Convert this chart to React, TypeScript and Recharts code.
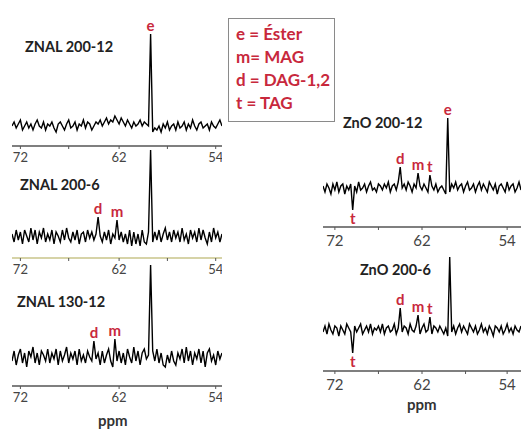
import React from 'react';
import { LineChart, Line, XAxis, YAxis, ReferenceDot } from 'recharts';

// tick positions along each axis (0..100 of the axis length) and their labels
const LEFT_TICKS = [4, 27, 51, 74, 97];
const RIGHT_TICKS = [6, 28, 50, 72, 93];
const TICK_LABELS = ['72', '', '62', '', '54'];

// spectra, 101 points each, baseline = 0
const ZNAL_200_12 = [
  0, 2, -1, 1, 3, -2, 0, 2, -1, 1,
  -2, 1, 3, 0, -1, 2, -2, 1, 0, 2,
  -1, -3, 1, 2, 0, -2, 1, 3, -1, 0,
  2, -2, 1, 0, 3, -1, 2, 1, -2, 0,
  2, 1, 3, 0, 2, 4, 1, 3, 2, 5,
  3, 1, 4, 2, 0, 3, 1, -1, 2, 0,
  1, 3, 0, 2, 1, 0, 46, -3, -1, -2,
  0, -3, 1, -1, 2, -2, 0, 1, -2, 2,
  -1, 0, 2, -2, 1, -1, 3, 0, -2, 1,
  2, -1, 0, 1, -2, 2, 0, -1, 1, 3, 0,
];
const ZNAL_200_6 = [
  1, -3, 3, -2, 2, -4, 3, 0, -3, 4,
  -2, 3, -4, 2, -1, 4, -3, 1, -2, 3,
  -4, 2, 0, -3, 3, -2, 4, -1, -3, 2,
  -2, 3, -4, 1, 2, -3, 3, -1, 2, -2,
  1, 9.5, 0, -3, 2, -2, 3, -4, 1, -1,
  8, -2, 2, -3, 1, -4, 3, -5, 2, -4,
  1, -5, 3, -3, -4, 2, 43, -3, 2, -2,
  3, -3, 1, 4, -2, 2, -3, 3, -1, 2,
  -3, 4, -2, 1, -4, 3, -1, 2, -3, 4,
  -2, 3, -1, -4, 2, -3, 4, -1, 2, -3, 1,
];
const ZNAL_130_12 = [
  -2, 3, -4, 1, 4, -3, 2, -5, 3, 0,
  5, -3, 2, -4, 3, 1, -2, 4, -3, 2,
  -1, 4, -4, 3, -2, 1, 5, -3, 2, -1,
  3, -4, 4, -2, 1, -3, 3, 0, -2, 8,
  -1, 2, -4, 3, -3, 1, 4, -2, -5, 9,
  -2, 3, -3, 2, -4, 4, 0, -3, 5, -2,
  3, -4, 2, 4, -1, 1, 46, 3, -2, 4,
  -3, 2, -4, -5, 1, -3, 3, -2, -4, 2,
  -1, 4, -3, 5, -2, 3, -4, 2, -1, 4,
  -3, 3, -5, 2, 4, -2, 1, -4, 3, -1, 2,
];
const ZNO_200_12 = [
  1, -2, 2, 0, -3, 2, -1, 3, -2, 1,
  2, -3, 1, -1, 2, -11, 1, -2, 3, -1,
  0, 2, -2, 1, 3, -1, 0, -2, 2, 1,
  -1, 2, 0, 3, -2, 1, 2, -1, 3, 10.5,
  0, 2, -1, 3, 1, -2, 2, 0, 7.5, 1,
  -1, 2, 0, -2, 6.5, 1, -1, 2, -2, 0,
  1, -1, -3, 35, -2, 2, 0, 3, -1, 1,
  2, -2, 1, 3, -1, 0, 2, -2, 1, 3,
  -1, 2, 0, -2, 3, 1, -1, 2, -3, 1,
  2, 0, -2, 3, -1, 1, 2, -2, 0, 3, -1,
];
const ZNO_200_6 = [
  -1, 2, -2, 3, 0, -2, 2, 1, -3, 2,
  0, -2, 3, 1, -1, -11.5, 2, -1, 1, 3,
  -2, 0, 2, -1, 3, -2, 1, 0, 2, -1,
  3, -2, 1, 2, -1, 0, 3, -2, 1, 11,
  -1, 2, 1, -2, 3, 0, -1, 2, 7.5, -2,
  1, 3, -1, 0, 6.5, -2, 2, 1, -1, 2,
  0, -2, 1, -3, 36.5, -1, 2, -2, 1, 3,
  -1, 2, 0, -2, 3, 1, -1, 2, -2, 0,
  3, -1, 1, -2, 2, 0, -3, 2, 1, -1,
  2, -2, 0, 3, -1, 1, -2, 2, 0, -1, 2,
];

// peak letters: index into the spectrum
const PEAKS_200_12 = [{ x: 66, label: 'e' }];
const PEAKS_200_6 = [{ x: 41, label: 'd' }, { x: 50, label: 'm' }];
const PEAKS_130_12 = [{ x: 39, label: 'd' }, { x: 49, label: 'm' }];
const PEAKS_ZNO_12 = [
  { x: 63, label: 'e' },
  { x: 39, label: 'd' },
  { x: 48, label: 'm' },
  { x: 54, label: 't' },
  { x: 15, label: 't' },
];
const PEAKS_ZNO_6 = [
  { x: 39, label: 'd' },
  { x: 48, label: 'm' },
  { x: 54, label: 't' },
  { x: 15, label: 't' },
];

const LEGEND = ['e = Éster', 'm= MAG', 'd = DAG-1,2', 't = TAG'];

const RED = '#c8283c';
const FONT = 'Lato, "Open Sans", sans-serif';
const TOP_PAD = 22;

interface PanelProps {
  values: number[];
  peaks: { x: number; label: string }[];
  left: number;
  plotTop: number;
  width: number;
  plotH: number;
  lo: number;
  hi: number;
  ticks: number[];
  axisColor?: string;
  tickFont?: number;
  tickMargin?: number;
}

function Panel({
  values,
  peaks,
  left,
  plotTop,
  width,
  plotH,
  lo,
  hi,
  ticks,
  axisColor = '#555',
  tickFont = 13,
  tickMargin = 4,
}: PanelProps) {
  const data = values.map((y, i) => ({ x: i, y }));
  return (
    <div style={{ position: 'absolute', left, top: plotTop - TOP_PAD }}>
      <LineChart
        width={width}
        height={TOP_PAD + plotH + 30}
        data={data}
        margin={{ top: TOP_PAD, right: 0, bottom: 0, left: 0 }}
      >
        <XAxis
          dataKey="x"
          type="number"
          domain={[0, 100]}
          ticks={ticks}
          interval={0}
          height={30}
          tickSize={3}
          tickMargin={tickMargin}
          tickFormatter={(v: number) => TICK_LABELS[ticks.indexOf(v)] ?? ''}
          axisLine={{ stroke: axisColor, strokeWidth: 1.5 }}
          tickLine={{ stroke: '#555' }}
          tick={{ fontSize: tickFont, fill: '#444', fontFamily: FONT }}
        />
        <YAxis hide type="number" domain={[lo, hi]} allowDataOverflow />
        <Line
          type="linear"
          dataKey="y"
          stroke="#000"
          strokeWidth={1.4}
          dot={false}
          isAnimationActive={false}
        />
        {peaks.map((p, i) => {
          const y = values[p.x];
          return (
            <ReferenceDot
              key={i}
              x={p.x}
              y={y}
              r={0}
              ifOverflow="visible"
              label={{
                value: p.label,
                position: y >= 0 ? 'top' : 'bottom',
                offset: 3,
                fill: RED,
                fontSize: 15,
                fontWeight: 700,
                fontFamily: FONT,
              }}
            />
          );
        })}
      </LineChart>
    </div>
  );
}

const titleStyle: React.CSSProperties = {
  position: 'absolute',
  fontFamily: FONT,
  fontWeight: 700,
  fontSize: 14.5,
  color: '#222',
  lineHeight: '16px',
  whiteSpace: 'nowrap',
};

export default function App() {
  return (
    <div
      style={{
        position: 'absolute',
        left: 0,
        top: 0,
        width: 523,
        height: 429,
        overflow: 'hidden',
        background: '#fff',
        fontFamily: FONT,
      }}
    >
      <Panel values={ZNAL_200_12} peaks={PEAKS_200_12} left={12} plotTop={31} width={210} plotH={115} lo={-10} hi={47.5} ticks={LEFT_TICKS} />
      <Panel values={ZNAL_200_6} peaks={PEAKS_200_6} left={12} plotTop={148} width={210} plotH={110} lo={-11} hi={44} ticks={LEFT_TICKS} axisColor="#c9c48a" />
      <Panel values={ZNAL_130_12} peaks={PEAKS_130_12} left={12} plotTop={263} width={210} plotH={123} lo={-14.5} hi={47} ticks={LEFT_TICKS} />
      <Panel values={ZNO_200_12} peaks={PEAKS_ZNO_12} left={323} plotTop={116} width={198} plotH={111} lo={-19.5} hi={36} ticks={RIGHT_TICKS} tickFont={15} tickMargin={5} />
      <Panel values={ZNO_200_6} peaks={PEAKS_ZNO_6} left={323} plotTop={255} width={198} plotH={116} lo={-20.5} hi={37.5} ticks={RIGHT_TICKS} tickFont={15} tickMargin={5} />

      <div style={{ ...titleStyle, left: 25, top: 39 }}>ZNAL 200-12</div>
      <div style={{ ...titleStyle, left: 20, top: 177 }}>ZNAL 200-6</div>
      <div style={{ ...titleStyle, left: 17, top: 294 }}>ZNAL 130-12</div>
      <div style={{ ...titleStyle, left: 343, top: 115 }}>ZnO 200-12</div>
      <div style={{ ...titleStyle, left: 360, top: 262 }}>ZnO 200-6</div>

      <div
        style={{
          position: 'absolute',
          left: 228,
          top: 18,
          width: 107,
          height: 104,
          border: '1px solid #8a8a8a',
          padding: '3px 0 0 7px',
          boxSizing: 'border-box',
        }}
      >
        {LEGEND.map((t) => (
          <div
            key={t}
            style={{ color: RED, fontWeight: 700, fontSize: 17, lineHeight: '23px', whiteSpace: 'nowrap' }}
          >
            {t}
          </div>
        ))}
      </div>

      <div style={{ ...titleStyle, left: 407, top: 396, fontSize: 15, color: '#333' }}>ppm</div>
      <div style={{ ...titleStyle, left: 98, top: 412, fontSize: 15, color: '#333' }}>ppm</div>
    </div>
  );
}
